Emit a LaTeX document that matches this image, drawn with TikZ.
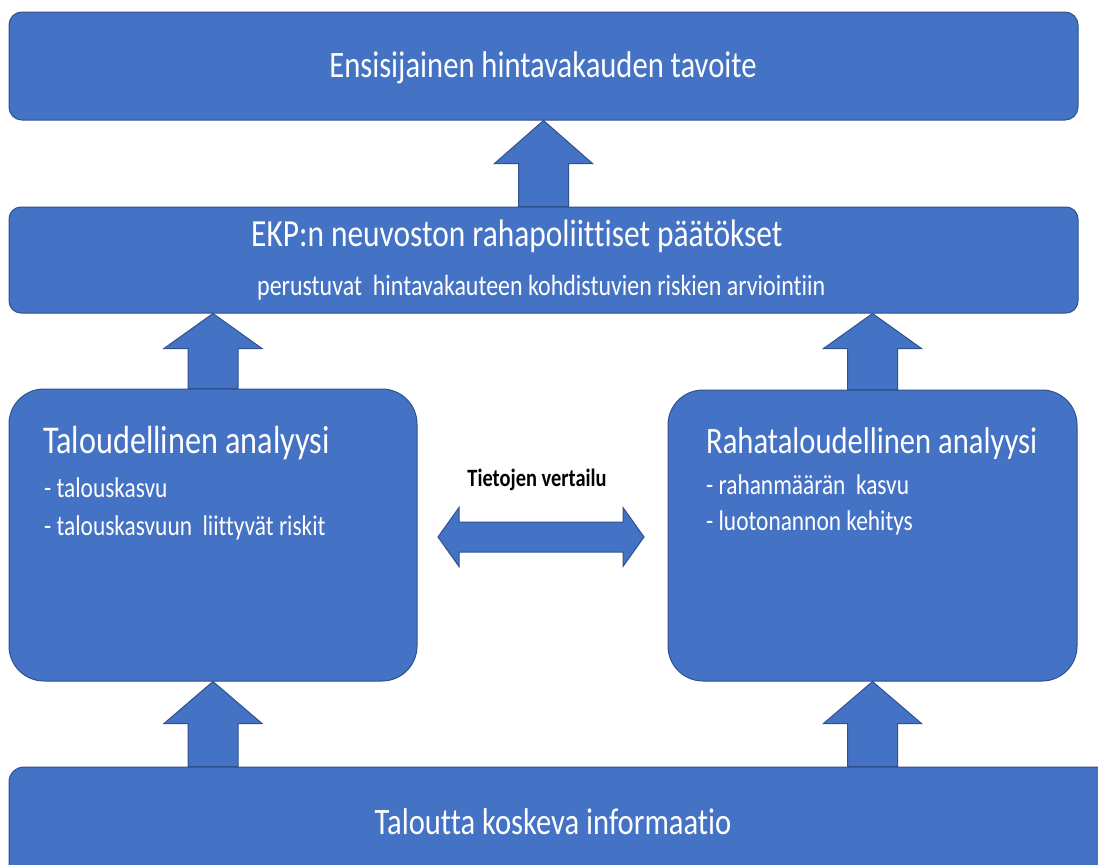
\documentclass[tikz,border=0pt]{standalone}
\usepackage{fontspec}
\usetikzlibrary{calc}
\newfontfamily\cf{Carlito}[FakeStretch=0.82, RawFeature=-liga]
\definecolor{boxfill}{HTML}{4472C4}
\definecolor{boxline}{HTML}{2F528F}
\tikzset{
  box/.style={draw=boxline, fill=boxfill, line width=1pt, inner sep=0pt},
  barrow/.style={draw=boxline, fill=boxfill, line width=1pt, line join=miter},
  wtext/.style={text=white, inner sep=0pt, font=\cf},
}
\newcommand\blockup[3]{%
  \draw[barrow] let \p1=(#1), \p2=(#2) in
    (\x2-25pt,\y1) -- (\x2-25pt,\y2-#3pt) -- (\x2-49pt,\y2-#3pt) -- (\x2,\y2)
    -- (\x2+49pt,\y2-#3pt) -- (\x2+25pt,\y2-#3pt) -- (\x2+25pt,\y1) -- cycle;}
\begin{document}
\begin{tikzpicture}[x=1pt,y=-1pt]
\useasboundingbox (0,0) rectangle (1098,865);
\clip (0,0) rectangle (1098,865);
\fill[white] (0,0) rectangle (1098,865);
% boxes
\node[box, rounded corners=13pt, minimum width=1069pt, minimum height=108pt] (top) at (543.5,66) {};
\node[box, rounded corners=12pt, minimum width=1069pt, minimum height=106pt] (ekp) at (543.5,260) {};
\node[box, rounded corners=35pt, minimum width=408pt, minimum height=292pt] (ta) at (213,535) {};
\node[box, rounded corners=35pt, minimum width=409pt, minimum height=291pt] (ra) at (872.5,535.5) {};
\node[box, rounded corners=15pt, minimum width=1111pt, minimum height=123pt] (info) at (564.5,828.5) {};
% block arrows
\blockup{ekp.north}{top.south}{43}
\blockup{ta.north}{ekp.south -| ta.north}{35}
\blockup{ra.north}{ekp.south -| ra.north}{35}
\blockup{info.north}{ta.south}{42}
\blockup{info.north}{ra.south}{42}
% double arrow
\coordinate (cmp) at (541,537);
\draw[barrow] let \p1=(cmp) in
  (\x1-103pt,\y1) -- (\x1-82pt,\y1+29.5pt) -- (\x1-82pt,\y1+15pt) -- (\x1+82pt,\y1+15pt)
  -- (\x1+82pt,\y1+29.5pt) -- (\x1+103pt,\y1) -- (\x1+82pt,\y1-29.5pt) -- (\x1+82pt,\y1-15pt)
  -- (\x1-82pt,\y1-15pt) -- (\x1-82pt,\y1-29.5pt) -- cycle;
% texts
\node[wtext, anchor=base, font=\cf\fontsize{37.3}{40}\selectfont] (t1) at (543,77) {Ensisijainen hintavakauden tavoite};
\node[wtext, anchor=base west, font=\cf\fontsize{38.3}{42}\selectfont] (t2) at (251,246) {EKP:n neuvoston rahapoliittiset päätökset};
\node[wtext, anchor=base west, font=\cf\fontsize{29.2}{32}\selectfont] (t3) at (257,295) {perustuvat~ hintavakauteen kohdistuvien riskien arviointiin};
\node[wtext, anchor=base west, font=\cf\fontsize{39.3}{42}\selectfont] (t4) at (43,453) {Taloudellinen analyysi};
\node[wtext, anchor=base west, font=\cf\fontsize{37.3}{40}\selectfont] (t5a) at (706,453) {Rahataloudellinen analyysi};
\node[wtext, anchor=base west, font=\cf\fontsize{28.5}{30}\selectfont] (t5) at (44,497) {- talouskasvu};
\node[wtext, anchor=base west, font=\cf\fontsize{28.5}{30}\selectfont] (t6) at (44,535) {- talouskasvuun~ liittyvät riskit};
\node[wtext, anchor=base west, font=\cf\fontsize{28.5}{30}\selectfont] (t8) at (706,494) {- rahanmäärän~ kasvu};
\node[wtext, anchor=base west, font=\cf\fontsize{28.5}{30}\selectfont] (t9) at (706,530) {- luotonannon kehitys};
\node[wtext, anchor=base, font=\cf\fontsize{37.3}{40}\selectfont] (t10) at (553,834) {Taloutta koskeva informaatio};
\node[inner sep=0pt, anchor=base, text=black, font=\cf\bfseries\fontsize{24.9}{28}\selectfont] (t11) at (537,486) {Tietojen vertailu};
\end{tikzpicture}
\end{document}
